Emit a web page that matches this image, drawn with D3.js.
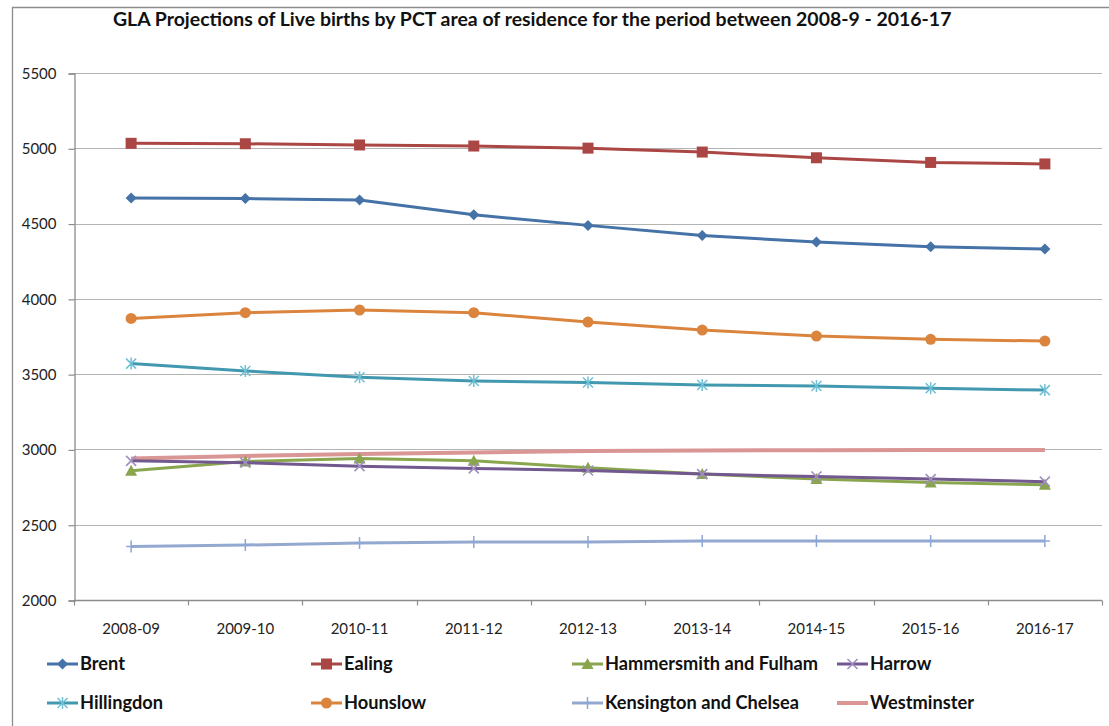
<!DOCTYPE html>
<html>
<head>
<meta charset="utf-8">
<script src="https://cdn.jsdelivr.net/npm/d3@7"></script>
<style>
  html, body { margin: 0; padding: 0; background: #ffffff; }
  svg { display: block; font-family: Lato, "Open Sans", sans-serif; }
</style>
</head>
<body>
<svg id="chart" width="1109" height="726"></svg>
<script>
// Financial years on the x axis
const years = ["2008-09", "2009-10", "2010-11", "2011-12", "2012-13", "2013-14", "2014-15", "2015-16", "2016-17"];
const yTicks = [2000, 2500, 3000, 3500, 4000, 4500, 5000, 5500];

// Projected live births per PCT area
const brent       = [4670, 4666, 4656, 4558, 4488, 4420, 4377, 4346, 4331];
const ealing      = [5033, 5030, 5022, 5015, 5001, 4975, 4937, 4906, 4896];
const hammersmith = [2859, 2920, 2940, 2925, 2879, 2837, 2803, 2780, 2765];
const harrow      = [2924, 2912, 2889, 2874, 2860, 2836, 2820, 2803, 2786];
const hillingdon  = [3570, 3521, 3479, 3454, 3444, 3428, 3421, 3406, 3394];
const hounslow    = [3870, 3908, 3926, 3908, 3846, 3793, 3753, 3731, 3720];
const kensington  = [2355, 2365, 2379, 2386, 2386, 2392, 2392, 2392, 2392];
const westminster = [2940, 2957, 2969, 2980, 2990, 2993, 2995, 2996, 2997];

const series = [
  { name: "Brent", values: brent, color: "#4572A7", marker: "diamond" },
  { name: "Ealing", values: ealing, color: "#AA4643", marker: "square" },
  { name: "Hammersmith and Fulham", values: hammersmith, color: "#89A54E", marker: "triangle" },
  { name: "Harrow", values: harrow, color: "#71588F", marker: "cross" },
  { name: "Hillingdon", values: hillingdon, color: "#4198AF", marker: "star" },
  { name: "Hounslow", values: hounslow, color: "#DB843D", marker: "circle" },
  { name: "Kensington and Chelsea", values: kensington, color: "#93A9CF", marker: "plus" },
  { name: "Westminster", values: westminster, color: "#D99694", marker: "none" }
];

const svg = d3.select("#chart");
const plot = { left: 74, right: 1102, top: 73, bottom: 600 };

const x = d3.scaleBand().domain(years).range([plot.left, plot.right]);
const y = d3.scaleLinear().domain([2000, 5500]).range([plot.bottom, plot.top]);
const cx = d => x(d) + x.bandwidth() / 2;

// Outer chart frame
svg.append("path")
  .attr("d", `M12.5,726 V7.5 H1109`)
  .attr("fill", "none").attr("stroke", "#8c8c8c").attr("stroke-width", 1.3);

// Title
const title = svg.append("text")
  .attr("x", 113).attr("y", 26)
  .attr("font-size", 16).attr("font-weight", 700).attr("fill", "#111")
  .text("GLA Projections of Live births by PCT area of residence for the period between 2008-9 - 2016-17");
{
  const w = title.node().getComputedTextLength();
  title.attr("font-size", 16 * 839 / w);
}

// Horizontal gridlines
svg.append("g").selectAll("line").data(yTicks.slice(1)).join("line")
  .attr("x1", plot.left).attr("x2", plot.right)
  .attr("y1", d => Math.round(y(d)) + 0.5).attr("y2", d => Math.round(y(d)) + 0.5)
  .attr("stroke", "#b3b3b3").attr("stroke-width", 1.2);

// Y axis
const yAxis = svg.append("g")
  .attr("transform", `translate(${plot.left + 0.5},0.5)`)
  .call(d3.axisLeft(y).tickValues(yTicks).tickSize(6).tickPadding(12).tickFormat(d3.format("d")));
yAxis.select(".domain").attr("stroke", "#8c8c8c").attr("stroke-width", 1.3);
yAxis.selectAll(".tick line").attr("stroke", "#8c8c8c").attr("stroke-width", 1.2);
yAxis.selectAll("text").attr("font-size", 15).attr("fill", "#222").attr("font-family", "Lato, sans-serif");

// X axis with ticks at the category boundaries
const xAxis = svg.append("g").attr("transform", `translate(0,${plot.bottom + 0.5})`);
xAxis.append("line").attr("x1", plot.left).attr("x2", plot.right)
  .attr("stroke", "#8c8c8c").attr("stroke-width", 1.3);
const bounds = years.map(d => x(d)).concat([plot.right]);
xAxis.selectAll("line.tick").data(bounds).join("line").attr("class", "tick")
  .attr("x1", d => Math.round(d) + 0.5).attr("x2", d => Math.round(d) + 0.5)
  .attr("y1", 0).attr("y2", 5)
  .attr("stroke", "#8c8c8c").attr("stroke-width", 1.2);
xAxis.selectAll("text").data(years).join("text")
  .attr("x", d => cx(d)).attr("y", 33)
  .attr("text-anchor", "middle").attr("font-size", 15).attr("fill", "#222")
  .text(d => d);

// Marker drawing
function drawMarker(g, type, color) {
  switch (type) {
    case "diamond":
      g.append("path").attr("d", "M0,-5.5L5.5,0L0,5.5L-5.5,0Z").attr("fill", color);
      break;
    case "square":
      g.append("rect").attr("x", -5.5).attr("y", -5.5).attr("width", 11).attr("height", 11).attr("fill", color);
      break;
    case "triangle":
      g.append("path").attr("d", "M0,-6L6,5L-6,5Z").attr("fill", color);
      break;
    case "circle":
      g.append("circle").attr("r", 5.5).attr("fill", color);
      break;
    case "cross":
      g.append("path").attr("d", "M-5,-5L5,5M-5,5L5,-5")
        .attr("stroke", "#a08fc0").attr("stroke-width", 1.6).attr("fill", "none");
      break;
    case "star":
      g.append("path").attr("d", "M-5,-5L5,5M-5,5L5,-5M0,-6V6")
        .attr("stroke", "#6fc0d6").attr("stroke-width", 1.5).attr("fill", "none");
      break;
    case "plus":
      g.append("path").attr("d", "M0,-6V6M-5,0H5")
        .attr("stroke", "#8ea6d6").attr("stroke-width", 1.5).attr("fill", "none");
      break;
  }
}

const line = d3.line().x((d, i) => cx(years[i])).y(d => y(d));

// Draw series in an order that keeps the front-most lines on top
const drawOrder = ["Westminster", "Kensington and Chelsea", "Hounslow", "Hillingdon", "Hammersmith and Fulham", "Harrow", "Ealing", "Brent"];
drawOrder.forEach(nm => {
  const s = series.find(t => t.name === nm);
  const g = svg.append("g");
  g.append("path").datum(s.values).attr("d", line)
    .attr("fill", "none").attr("stroke", s.color)
    .attr("stroke-width", s.marker === "none" ? 4 : 3)
    .attr("stroke-linejoin", "round");
  s.values.forEach((v, i) => {
    const m = g.append("g").attr("transform", `translate(${cx(years[i])},${y(v)})`);
    drawMarker(m, s.marker, s.color);
  });
});

// Legend
const legendPos = [
  { x: 47, y: 664 }, { x: 311, y: 664 }, { x: 572, y: 664 }, { x: 837, y: 664 },
  { x: 47, y: 703 }, { x: 311, y: 703 }, { x: 572, y: 703 }, { x: 837, y: 703 }
];
const legendOrder = ["Brent", "Ealing", "Hammersmith and Fulham", "Harrow", "Hillingdon", "Hounslow", "Kensington and Chelsea", "Westminster"];
const legend = svg.append("g");
legendOrder.forEach((nm, k) => {
  const s = series.find(t => t.name === nm);
  const p = legendPos[k];
  const g = legend.append("g").attr("transform", `translate(${p.x},${p.y})`);
  g.append("line").attr("x1", 0).attr("x2", 31).attr("y1", 0).attr("y2", 0)
    .attr("stroke", s.color).attr("stroke-width", s.marker === "none" ? 4 : 3);
  const m = g.append("g").attr("transform", "translate(15.5,0)");
  drawMarker(m, s.marker, s.color);
  g.append("text").attr("class", "legend-label").attr("x", 33).attr("y", 0).attr("dy", "0.35em")
    .attr("font-size", 16).attr("font-weight", 700).attr("fill", "#111").text(nm);
});
{
  const ref = legend.selectAll("text.legend-label").filter(function () { return this.textContent === "Hammersmith and Fulham"; });
  const w = ref.node().getComputedTextLength();
  legend.selectAll("text.legend-label").attr("font-size", 16 * 213 / w);
}
</script>
</body>
</html>
